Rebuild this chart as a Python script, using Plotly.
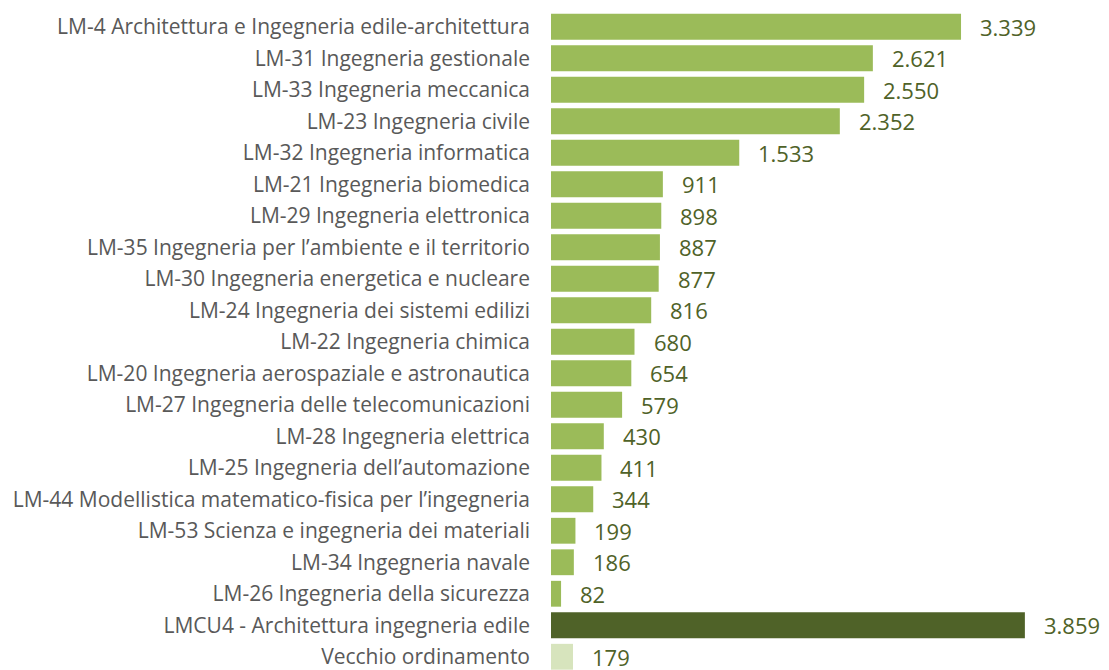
import plotly.graph_objects as go

# ------------------------------
# Data
# ------------------------------
labels = [
    "LM-4 Architettura e Ingegneria edile-architettura",
    "LM-31 Ingegneria gestionale",
    "LM-33 Ingegneria meccanica",
    "LM-23 Ingegneria civile",
    "LM-32 Ingegneria informatica",
    "LM-21 Ingegneria biomedica",
    "LM-29 Ingegneria elettronica",
    "LM-35 Ingegneria per l\u2019ambiente e il territorio",
    "LM-30 Ingegneria energetica e nucleare",
    "LM-24 Ingegneria dei sistemi edilizi",
    "LM-22 Ingegneria chimica",
    "LM-20 Ingegneria aerospaziale e astronautica",
    "LM-27 Ingegneria delle telecomunicazioni",
    "LM-28 Ingegneria elettrica",
    "LM-25 Ingegneria dell\u2019automazione",
    "LM-44 Modellistica matematico-fisica per l\u2019ingegneria",
    "LM-53 Scienza e ingegneria dei materiali",
    "LM-34 Ingegneria navale",
    "LM-26 Ingegneria della sicurezza",
    "LMCU4 - Architettura ingegneria edile",
    "Vecchio ordinamento",
]
values = [3339, 2621, 2550, 2352, 1533, 911, 898, 887, 877, 816, 680, 654,
          579, 430, 411, 344, 199, 186, 82, 3859, 179]

bar_colors = ["#9bbb59"] * 19 + ["#4f6228", "#d7e4bd"]


def fmt(v):
    return f"{v:,}".replace(",", ".")


# ------------------------------
# Figure
# ------------------------------
fig = go.Figure(go.Bar(
    x=values,
    y=labels,
    orientation="h",
    marker=dict(color=bar_colors, line=dict(width=0)),
    width=0.82,
))

for lab, v in zip(labels, values):
    fig.add_annotation(
        x=v, y=lab, text=fmt(v), showarrow=False,
        xanchor="left", xshift=17,
        font=dict(family="Open Sans, sans-serif", size=22, color="#4f6228"),
    )

fig.update_xaxes(visible=False, range=[0, 4544], fixedrange=True)
fig.update_yaxes(
    range=[20.42, -0.5],
    showgrid=False, showline=False, ticks="",
    ticklabelstandoff=20,
    tickfont=dict(family="Open Sans, sans-serif", size=21, color="#595959"),
    automargin=False,
    fixedrange=True,
)
# page body adds 8px, so the figure is sized to the visible window
fig.update_layout(
    width=1101, height=662,
    showlegend=False,
    plot_bgcolor="white",
    paper_bgcolor="white",
    margin=dict(t=3, l=543, b=0, r=0),
)

fig.write_html("out.html")
